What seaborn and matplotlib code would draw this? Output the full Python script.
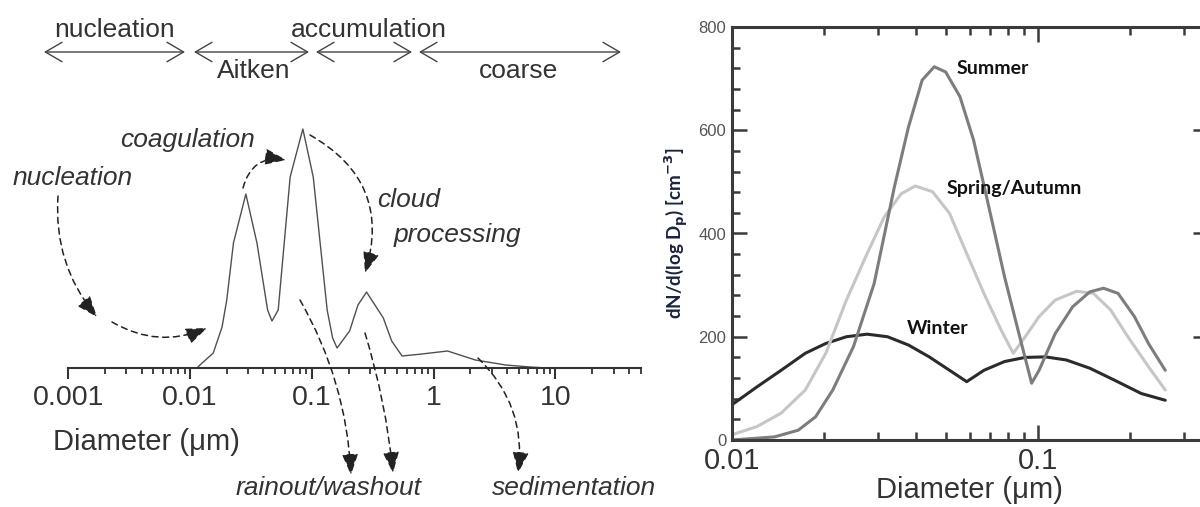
import pandas as pd
import seaborn as sns
import matplotlib.pyplot as plt
from matplotlib.ticker import LogLocator, NullFormatter, MultipleLocator

W, H = 1200, 507

# left panel: schematic size distribution (diameter in um, relative height)
schem_d = [0.0114, 0.01205, 0.0155, 0.0183, 0.0200, 0.0227, 0.0287, 0.0354, 0.0433, 0.047,
           0.0529, 0.0663, 0.0843, 0.1026, 0.1335, 0.148, 0.161, 0.204, 0.239, 0.281,
           0.386, 0.452, 0.55, 0.8, 1.3, 2.2, 3.9, 6.2, 8.5]
schem_h = [0, 3, 15, 41, 68, 125, 174, 125, 58, 47,
           58, 191, 239, 191, 58, 30, 20, 37, 63, 76,
           50, 27, 12, 14, 17, 8, 3, 1, 0]
schem_ticks = [0.001, 0.01, 0.1, 1, 10]
schem_labels = ["0.001", "0.01", "0.1", "1", "10"]

# right panel: seasonal size distributions
summer_d = [0.01, 0.0138, 0.0165, 0.0188, 0.0214, 0.025, 0.0292, 0.034, 0.0378, 0.0419,
            0.0459, 0.050, 0.0557, 0.0617, 0.0684, 0.0779, 0.0862, 0.0955, 0.101, 0.114,
            0.130, 0.148, 0.164, 0.183, 0.207, 0.230, 0.261]
summer_v = [0, 6, 19, 45, 97, 181, 303, 490, 606, 697,
            723, 713, 665, 581, 465, 316, 213, 110, 135, 206,
            258, 287, 294, 284, 239, 187, 135]
spring_d = [0.01, 0.0121, 0.0145, 0.0174, 0.0203, 0.0237, 0.0277, 0.0315, 0.0358, 0.0398,
            0.0453, 0.0515, 0.0586, 0.0667, 0.0759, 0.0832, 0.091, 0.101, 0.114, 0.134,
            0.152, 0.173, 0.197, 0.230, 0.261]
spring_v = [10, 26, 52, 97, 168, 271, 361, 432, 477, 492,
            481, 439, 361, 284, 213, 168, 200, 239, 271, 288,
            284, 252, 200, 142, 97]
winter_d = [0.01, 0.0121, 0.0145, 0.0174, 0.0203, 0.0237, 0.0277, 0.0323, 0.0378, 0.0442,
            0.0515, 0.0586, 0.0667, 0.0779, 0.091, 0.106, 0.124, 0.148, 0.178, 0.218, 0.261]
winter_v = [68, 103, 135, 168, 187, 200, 205, 200, 184, 161,
            135, 113, 135, 152, 160, 161, 155, 139, 116, 90, 77]
seasons = ["Summer", "Spring/Autumn", "Winter"]
season_colors = {"Summer": "#7d7d7d", "Spring/Autumn": "#c6c6c6", "Winter": "#2b2b2b"}
right_ticks = [0.01, 0.1]
right_labels = ["0.01", "0.1"]

sns.set_style("ticks")
plt.rcParams['font.family'] = ['Liberation Sans', 'DejaVu Sans']

fig = plt.figure(figsize=(12, 5.07), dpi=100)


def P(x, y):
    # reference pixel position -> figure pixels
    return (x, H - y)


# ---------- left panel ----------
ax1 = fig.add_axes([68.3 / W, 1 - 368 / H, 572.3 / W, 368 / H])
schem = pd.DataFrame({"d": schem_d, "h": schem_h})
sns.lineplot(data=schem, x="d", y="h", ax=ax1, color="#505050", lw=1.0, sort=False)
ax1.set_xscale("log")
ax1.set_xlim(0.001, 50)
ax1.set_ylim(0, 368)
for s in ["left", "top", "right"]:
    ax1.spines[s].set_visible(False)
ax1.spines["bottom"].set_color("#333333")
ax1.spines["bottom"].set_linewidth(1.5)
ax1.set_yticks([])
ax1.set_xticks(schem_ticks, schem_labels)
ax1.xaxis.set_minor_locator(LogLocator(base=10, subs=range(2, 10), numticks=20))
ax1.xaxis.set_minor_formatter(NullFormatter())
ax1.tick_params(axis="x", which="major", length=8, width=1.5, color="#333333",
                labelsize=20.5, labelcolor="#333333", pad=4)
ax1.tick_params(axis="x", which="minor", length=4.5, width=1.3, color="#333333")
ax1.set_xlabel("")
ax1.set_ylabel("")
ax1.patch.set_alpha(0)

fig.text(53 / W, 1 - 450 / H, "Diameter (μm)", fontsize=21, color="#333333",
         ha="left", va="baseline")

# mode ranges on top
mode_arrows = [(44, 185), (194, 309), (316, 412), (419, 621)]
for x0, x1 in mode_arrows:
    ax1.annotate("", xy=P(x1, 52), xytext=P(x0, 52), xycoords="figure pixels",
                 textcoords="figure pixels", annotation_clip=False,
                 arrowprops=dict(arrowstyle="<->,head_length=1.2,head_width=0.7",
                                 lw=1.0, color="#444444", shrinkA=0, shrinkB=0,
                                 mutation_scale=10))
top_text = [("nucleation", 115, 37), ("accumulation", 369, 37),
            ("Aitken", 254, 78), ("coarse", 519, 78)]
for s, x, y in top_text:
    fig.text(x / W, 1 - y / H, s, fontsize=19, color="#333333", ha="center", va="baseline")

# process arrows (dashed)
process_arrows = [
    ((58, 196), (97, 317), 0.2),
    ((112, 322), (207, 328), 0.25),
    ((243, 188), (286, 160), -0.45),
    ((310, 135), (365, 273), -0.4),
    ((300, 300), (351, 475), -0.12),
    ((365, 333), (393, 473), -0.05),
    ((478, 358), (518, 473), -0.25),
]
for (xa, ya), (xb, yb), rad in process_arrows:
    ax1.annotate("", xy=P(xb, yb), xytext=P(xa, ya), xycoords="figure pixels",
                 textcoords="figure pixels", annotation_clip=False,
                 arrowprops=dict(arrowstyle="-|>,head_length=1.3,head_width=0.5",
                                 linestyle=(0, (4, 3)), lw=1.1, color="#222222",
                                 connectionstyle=f"arc3,rad={rad}",
                                 shrinkA=0, shrinkB=0, mutation_scale=10))
process_text = [("coagulation", 188, 147), ("nucleation", 73, 185), ("cloud", 409, 207),
                ("processing", 457, 242), ("rainout/washout", 329, 495),
                ("sedimentation", 574, 495)]
for s, x, y in process_text:
    fig.text(x / W, 1 - y / H, s, fontsize=19, color="#333333", style="italic",
             ha="center", va="baseline")

# ---------- right panel ----------
ax2 = fig.add_axes([731.7 / W, 1 - 440 / H, 476.3 / W, 413 / H])
season_df = pd.concat([
    pd.DataFrame({"d": summer_d, "v": summer_v, "season": "Summer"}),
    pd.DataFrame({"d": spring_d, "v": spring_v, "season": "Spring/Autumn"}),
    pd.DataFrame({"d": winter_d, "v": winter_v, "season": "Winter"}),
])
sns.lineplot(data=season_df, x="d", y="v", hue="season", hue_order=seasons[::-1],
             palette=season_colors, lw=2.2, ax=ax2, legend=False, sort=False)
ax2.set_xscale("log")
ax2.set_xlim(0.01, 0.36)
ax2.set_ylim(0, 800)
ax2.set_xticks(right_ticks, right_labels)
ax2.xaxis.set_minor_locator(LogLocator(base=10, subs=range(2, 10), numticks=20))
ax2.xaxis.set_minor_formatter(NullFormatter())
ax2.yaxis.set_major_locator(MultipleLocator(200))
ax2.yaxis.set_minor_locator(MultipleLocator(40))
for s in ax2.spines.values():
    s.set_color("#3a3a3a")
    s.set_linewidth(2.2)
ax2.tick_params(which="both", direction="in", top=True, right=True, color="#3a3a3a", width=1.8)
ax2.tick_params(which="major", length=10.5)
ax2.tick_params(which="minor", length=5.5)
ax2.tick_params(axis="x", which="major", labelsize=21, labelcolor="#333333", pad=5)
ax2.tick_params(axis="y", which="major", labelsize=12, labelcolor="#555555", pad=4)
ax2.set_xlabel("Diameter (μm)", fontsize=21, color="#333333", labelpad=1)
ax2.set_ylabel(r"dN/d(log D$_{\mathbf{p}}$) [cm$^{\mathbf{-3}}$]", fontsize=13.5,
               fontweight="bold", color="#1a2440", family=["Lato", "DejaVu Sans"], labelpad=5)

season_text = [("Summer", 0.0545, 719), ("Spring/Autumn", 0.0502, 488), ("Winter", 0.0374, 216)]
for s, x, y in season_text:
    ax2.text(x, y, s, fontsize=14, fontweight="bold", color="#111111",
             family=["Lato", "DejaVu Sans"], ha="left", va="center")

fig.savefig("out.png", dpi=100)
